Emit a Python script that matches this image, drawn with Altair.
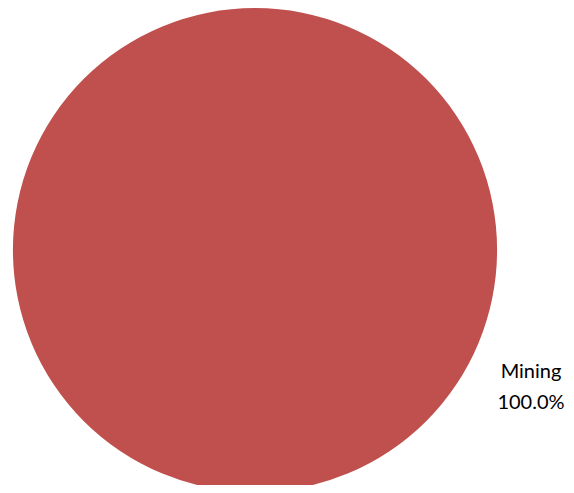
import altair as alt
import pandas as pd

categories = ["Mining"]
values = [100.0]

df = pd.DataFrame({"category": categories, "value": values})

base = alt.Chart(df).transform_joinaggregate(
    total="sum(value)"
).transform_calculate(
    label="datum.category + '\\n' + format(datum.value / datum.total, '.1%')",
)

pie = base.mark_arc(radius=242).encode(
    theta=alt.Theta("value:Q", stack=True),
    color=alt.Color("category:N", scale=alt.Scale(range=["#C0504D"]), legend=None),
    x=alt.value(247),
    y=alt.value(242),
)

labels = base.mark_text(
    lineBreak="\n",
    font="Lato",
    fontSize=20,
    color="#000000",
    align="center",
    baseline="alphabetic",
    lineHeight=31,
).encode(
    text="label:N",
    x=alt.value(523),
    y=alt.value(370),
)

chart = alt.layer(pie, labels).properties(
    width=558,
    height=477,
    padding=0,
    background="white",
    autosize=alt.AutoSizeParams(type="none"),
).configure_view(strokeWidth=0)

chart.save("out.html", embed_options={"renderer": "svg", "actions": False})
